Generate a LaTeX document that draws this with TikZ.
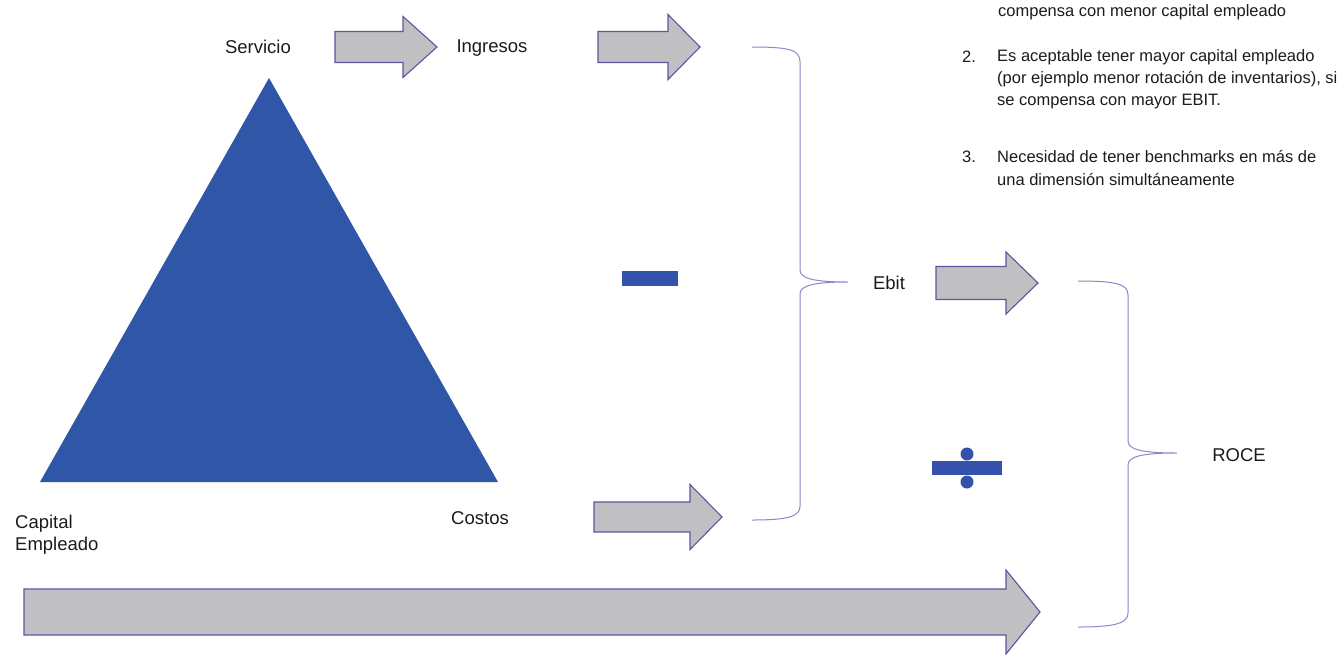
\documentclass[tikz,border=0pt]{standalone}
\usepackage{fontspec}
\setmainfont{Liberation Sans}
\definecolor{triblue}{RGB}{48,86,168}
\definecolor{signblue}{RGB}{52,82,172}
\definecolor{arrowgray}{RGB}{192,191,194}
\definecolor{arrowline}{RGB}{96,82,160}
\definecolor{braceline}{RGB}{150,130,205}
\definecolor{txt}{RGB}{28,28,28}
\newcommand\blockarrow[6]{%
  \filldraw[blockarr] (#1,#4-#5) -- (#2,#4-#5) -- (#2,#4-#6) -- (#3,#4) -- (#2,#4+#6) -- (#2,#4+#5) -- (#1,#4+#5) -- cycle;}
\begin{document}
\begin{tikzpicture}[x=1pt,y=-1pt,
  lbl/.style={inner sep=0pt,text=txt,font=\fontsize{18.5}{22}\selectfont},
  note/.style={inner sep=0pt,text=txt,font=\fontsize{16.5}{22.5}\selectfont,anchor=west},
  blockarr/.style={fill=arrowgray,draw=arrowline,line width=1.1pt,line join=miter},
  bracestyle/.style={draw=braceline,line width=1pt},
  sign/.style={fill=signblue}]
\useasboundingbox (0,0) rectangle (1338,654);
\fill[white] (0,0) rectangle (1338,654);
% triangle
\fill[triblue] (269,78) -- (498,482) -- (40,482) -- cycle;
% labels
\node[lbl] (serv) at (258,47) {Servicio};
\node[lbl] (ingr) at (492,48) {Ingresos};
\node[lbl,anchor=west,align=left] (cap) at (15,535) {Capital\\Empleado};
\node[lbl] (cost) at (480,518) {Costos};
\node[lbl] (ebit) at (889,283) {Ebit};
\node[lbl] (roce) at (1239,455) {ROCE};
% block arrows
\blockarrow{335}{403}{437}{47}{15.5}{30.5}
\blockarrow{598}{668}{700}{47}{15.5}{32.5}
\blockarrow{594}{690}{722}{517}{15}{32.5}
\blockarrow{936}{1006}{1038}{283}{16.5}{31}
\blockarrow{24}{1006}{1040}{612}{23}{42}
% braces
\coordinate (b1tip) at (848,282);
\coordinate (b2tip) at (1177,453);
\draw[bracestyle] (752,47) .. controls (790,47) and (800,50) .. (800,62) -- (800,270)
  .. controls (800,278) and (812,282) .. (b1tip)
  .. controls (812,282) and (800,286) .. (800,294) -- (800,506)
  .. controls (800,516) and (790,520) .. (752,520);
\draw[bracestyle] (1078,281) .. controls (1116,281) and (1128,284) .. (1128,295) -- (1128,441)
  .. controls (1128,449) and (1140,453) .. (b2tip)
  .. controls (1140,453) and (1128,457) .. (1128,465) -- (1128,613)
  .. controls (1128,623) and (1116,627) .. (1078,627);
% minus and division signs
\fill[sign] (622,271) rectangle (678,286);
\fill[sign] (932,461) rectangle (1002,475);
\fill[sign] (967,454) circle (6.5);
\fill[sign] (967,482) circle (6.5);
% notes
\node[note] (n1) at (998,12) {compensa con menor capital empleado};
\node[note] (n2num) at (962,57) {2.};
\node[note] (n2a) at (997,57) {Es aceptable tener mayor capital empleado};
\node[note] (n2b) at (997,79.5) {(por ejemplo menor rotación de inventarios), si};
\node[note] (n2c) at (997,102) {se compensa con mayor EBIT.};
\node[note] (n3num) at (962,157) {3.};
\node[note] (n3a) at (997,157) {Necesidad de tener benchmarks en más de};
\node[note] (n3b) at (997,179.5) {una dimensión simultáneamente};
\end{tikzpicture}
\end{document}
